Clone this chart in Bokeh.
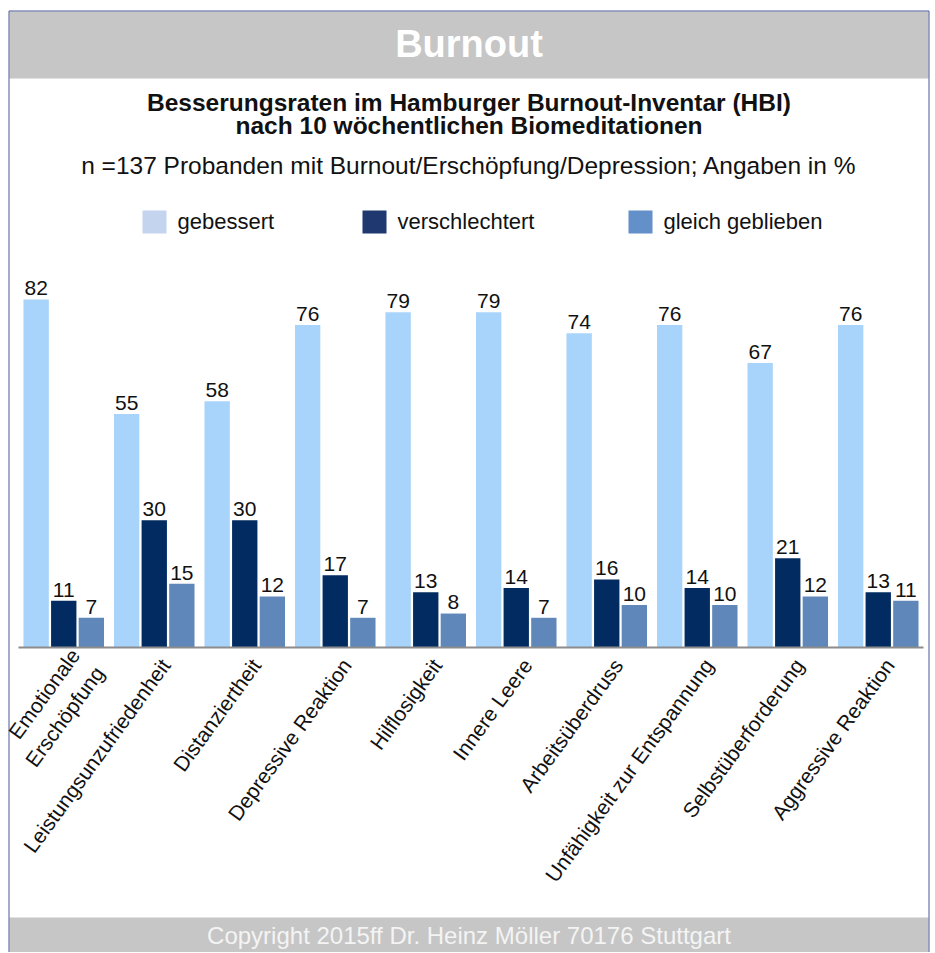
import math
from bokeh.plotting import figure
from bokeh.models import Range1d, ColumnDataSource
from bokeh.transform import dodge
from bokeh.core.properties import value
from bokeh.embed import file_html
from bokeh.resources import INLINE

# ---------------- data ----------------
categories = [
    "Emotionale Erschöpfung",
    "Leistungsunzufriedenheit",
    "Distanziertheit",
    "Depressive Reaktion",
    "Hilflosigkeit",
    "Innere Leere",
    "Arbeitsüberdruss",
    "Unfähigkeit zur Entspannung",
    "Selbstüberforderung",
    "Aggressive Reaktion",
]
category_labels = [
    "Emotionale\nErschöpfung",
    "Leistungsunzufriedenheit",
    "Distanziertheit",
    "Depressive Reaktion",
    "Hilflosigkeit",
    "Innere Leere",
    "Arbeitsüberdruss",
    "Unfähigkeit zur Entspannung",
    "Selbstüberforderung",
    "Aggressive Reaktion",
]
gebessert = [82, 55, 58, 76, 79, 79, 74, 76, 67, 76]
verschlechtert = [11, 30, 30, 17, 13, 14, 16, 14, 21, 13]
gleich_geblieben = [7, 15, 12, 7, 8, 7, 10, 10, 12, 11]
series_names = ["gebessert", "verschlechtert", "gleich geblieben"]

title_text = "Burnout"
subtitle_lines = [
    "Besserungsraten im Hamburger Burnout-Inventar (HBI)",
    "nach 10 wöchentlichen Biomeditationen",
]
note_text = "n =137 Probanden mit Burnout/Erschöpfung/Depression; Angaben in %"
footer_text = "Copyright 2015ff Dr. Heinz Möller 70176 Stuttgart"

# ---------------- styling / layout constants ----------------
FONT = value("Liberation Sans")
BAR_COLORS = ["#A8D3FA", "#012B61", "#5F87B9"]
LEGEND_COLORS = ["#C4D3EE", "#1F386F", "#6390C9"]
GRAY = "#C6C6C6"
BORDER = "#4A5796"
TXT = "#111111"

W, H = 934, 952          # canvas size in page pixels
BOX_L, BOX_R, BOX_T = 8.5, 928.5, 10.5
CAT_W = 90.5             # pixel width of one category
CAT_L, CAT_R = 18, 923   # pixel extent of the category axis
PX_PER = 4.245           # pixels per percent
BASE = 647               # baseline of bars, px from top
N = len(categories)
SHIFT = 0.385            # rendered baseline sits this many em below the given y


def base_y(y, size):
    """y to pass so that the alphabetic baseline lands at page row y."""
    return y - SHIFT * size


# ---------------- single figure ----------------
p = figure(width=W, height=H,
           x_range=Range1d(-CAT_L / CAT_W, N + (W - CAT_R) / CAT_W),
           y_range=Range1d(-(H - BASE) / PX_PER, BASE / PX_PER),
           output_backend="svg", toolbar_location=None, min_border=0,
           x_axis_location=None, y_axis_location=None)
p.grid.visible = False
p.outline_line_color = None
p.extra_x_ranges = {"px": Range1d(0, W)}
p.extra_y_ranges = {"px": Range1d(H, 0)}
PXR = dict(x_range_name="px", y_range_name="px")

# header / footer bands and frame border
p.quad(left=[9, 9], right=[BOX_R - 0.5, BOX_R - 0.5], top=[11, 917], bottom=[78, H],
       fill_color=GRAY, line_color=None, **PXR)
p.segment(x0=[BOX_L, BOX_R, BOX_L], x1=[BOX_L, BOX_R, BOX_R],
          y0=[BOX_T, BOX_T, BOX_T], y1=[H, H, BOX_T],
          line_color=BORDER, line_width=1, **PXR)

CX = (BOX_L + BOX_R) / 2
p.text(x=[CX], y=[base_y(58, 38)], text=[title_text], text_font=FONT,
       text_font_style="bold", text_font_size="38px", text_color="white",
       text_align="center", text_baseline="alphabetic", **PXR)
p.text(x=[CX, CX], y=[base_y(111, 24.5), base_y(134.5, 24.5)], text=subtitle_lines,
       text_font=FONT, text_font_style="bold", text_font_size="24.5px", text_color=TXT,
       text_align="center", text_baseline="alphabetic", **PXR)
p.text(x=[CX], y=[base_y(174, 24.5)], text=[note_text], text_font=FONT,
       text_font_size="24.5px", text_color=TXT, text_align="center",
       text_baseline="alphabetic", **PXR)
leg_x = [142, 362, 628]
p.quad(left=leg_x, right=[v + 24 for v in leg_x], top=[210] * 3, bottom=[233] * 3,
       fill_color=LEGEND_COLORS, line_color=None, **PXR)
p.text(x=[v + 35 for v in leg_x], y=[base_y(229, 22)] * 3, text=series_names,
       text_font=FONT, text_font_size="22px", text_color=TXT, text_align="left",
       text_baseline="alphabetic", **PXR)
p.text(x=[CX], y=[base_y(944, 24)], text=[footer_text], text_font=FONT,
       text_font_size="24px", text_color="#F4F4F4", text_align="center",
       text_baseline="alphabetic", **PXR)

# bars (category i is centred at i + 0.5)
label_dy = [-3, 7, 7, 7, 7, 7, 7, 7, 7, 7]   # per-label vertical nudge (px)
src = ColumnDataSource(dict(
    pos=[i + 0.5 for i in range(N)], lab=category_labels, zero=[0] * N, dy=label_dy,
    g=gebessert, v=verschlechtert, s=gleich_geblieben,
    gl=[str(x) for x in gebessert], vl=[str(x) for x in verschlechtert],
    sl=[str(x) for x in gleich_geblieben],
))
offsets = [-0.305, 0.0, 0.305]
lift = (3 + SHIFT * 21) / PX_PER
for off, c, lab, color in zip(offsets, ["g", "v", "s"], ["gl", "vl", "sl"], BAR_COLORS):
    p.vbar(x=dodge("pos", off), top=c, width=0.28, source=src,
           fill_color=color, line_color=None)
    p.text(x=dodge("pos", off), y=dodge(c, lift), text=lab, source=src,
           text_font=FONT, text_font_size="21px", text_color=TXT,
           text_align="center", text_baseline="alphabetic")

# category axis line and rotated labels
p.segment(x0=[0], x1=[N], y0=[0], y1=[0], line_color="#8C8C8C", line_width=2)
p.text(x="pos", y="zero", text="lab", source=src, angle=math.radians(54),
       text_font=FONT, text_font_size="21px", text_color=TXT, text_align="right",
       text_baseline="top", x_offset=2, y_offset="dy", text_line_height=1.3)

with open("out.html", "w") as f:
    f.write(file_html(p, INLINE))
